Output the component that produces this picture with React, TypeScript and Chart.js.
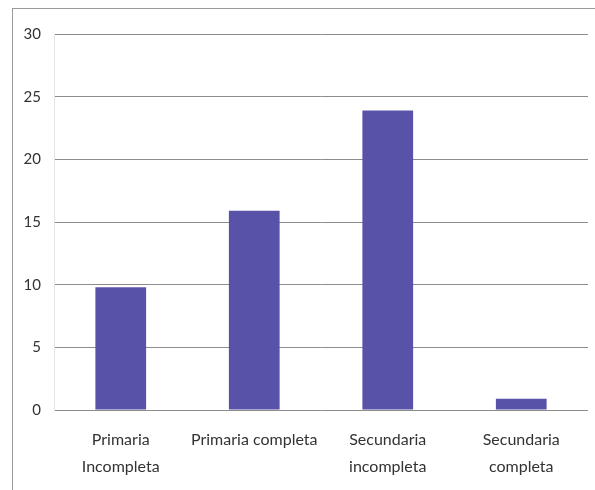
import React, { useEffect, useRef } from "react";
import { Chart, registerables } from "chart.js";

Chart.register(...registerables);

const categories: string[][] = [
  ["Primaria", "Incompleta"],
  ["Primaria completa"],
  ["Secundaria", "incompleta"],
  ["Secundaria", "completa"],
];
const values: number[] = [9.8, 15.9, 23.9, 0.9];
const yTicks: number[] = [0, 5, 10, 15, 20, 25, 30];

export default function App() {
  const ref = useRef<HTMLCanvasElement | null>(null);

  useEffect(() => {
    document.body.style.margin = "0";
    const ctx = ref.current!;
    const chart = new Chart(ctx, {
      type: "bar",
      data: {
        labels: categories,
        datasets: [
          {
            data: values,
            backgroundColor: "#5853a9",
            borderWidth: 0,
            barPercentage: 0.76,
            categoryPercentage: 0.5,
          },
        ],
      },
      options: {
        animation: false,
        responsive: false,
        maintainAspectRatio: false,
        events: [],
        layout: { padding: { top: 34, right: 7, left: 0, bottom: 0 } },
        plugins: { legend: { display: false }, tooltip: { enabled: false } },
        scales: {
          x: {
            grid: { display: false, drawTicks: false },
            border: { display: false },
            ticks: {
              color: "#333333",
              padding: 16,
              maxRotation: 0,
              autoSkip: false,
              font: { family: "Lato", size: 16, lineHeight: 1.7 },
            },
            afterFit: (s: any) => {
              s.height = 80;
            },
          },
          y: {
            min: 0,
            max: 30,
            afterBuildTicks: (s: any) => {
              s.ticks = yTicks.map((v) => ({ value: v }));
            },
            grid: { color: "#8c8c8c", lineWidth: 1, drawTicks: false },
            border: { display: true, color: "#e4e4e4" },
            ticks: {
              color: "#333333",
              padding: 13,
              font: { family: "Lato", size: 15 },
            },
            afterFit: (s: any) => {
              s.width = 54;
            },
          },
        },
      },
    });
    return () => chart.destroy();
  }, []);

  return (
    <div style={{ position: "fixed", left: 0, top: 0, width: 595, height: 490, background: "#fff" }}>
      <canvas ref={ref} width={595} height={490} style={{ position: "absolute", left: 0, top: 0 }} />
      <div
        style={{
          position: "absolute",
          left: 12,
          top: 8,
          width: 600,
          height: 500,
          borderLeft: "1px solid #9a9a9a",
          borderTop: "1px solid #9a9a9a",
          pointerEvents: "none",
        }}
      />
    </div>
  );
}
